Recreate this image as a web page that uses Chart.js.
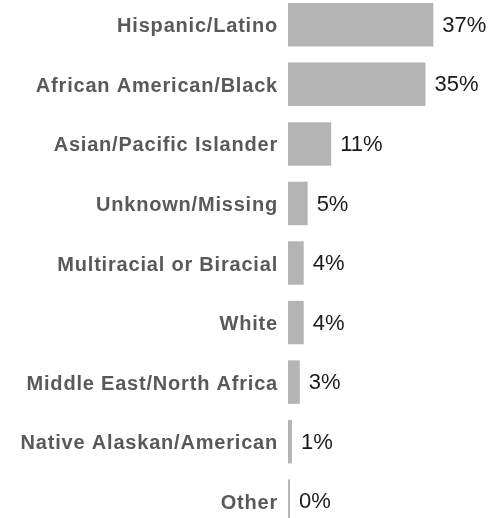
<!DOCTYPE html>
<html>
<head>
<meta charset="utf-8">
<script src="https://cdn.jsdelivr.net/npm/chart.js@4"></script>
<style>
  html, body { margin: 0; padding: 0; background: #fff; overflow: hidden; }
  body { width: 504px; height: 518px; position: relative; }
  #chart { position: absolute; left: 0; top: -5px; }
</style>
</head>
<body>
<canvas id="chart" width="504" height="536"></canvas>
<script>
"use strict";

const categories = [
  "Hispanic/Latino",
  "African American/Black",
  "Asian/Pacific Islander",
  "Unknown/Missing",
  "Multiracial or Biracial",
  "White",
  "Middle East/North Africa",
  "Native Alaskan/American",
  "Other"
];

const percentages = [37, 35, 11, 5, 4, 4, 3, 1, 0];

const FONT = "'Liberation Sans', Arial, Helvetica, sans-serif";

// bold category labels are slightly tracked out
const labelSpacing = {
  id: "labelSpacing",
  beforeDraw(chart) {
    chart.ctx.letterSpacing = "0.8px";
  },
  afterDraw(chart) {
    chart.ctx.letterSpacing = "0px";
  }
};

// percentage text to the right of every bar
const valueLabels = {
  id: "valueLabels",
  afterDatasetsDraw(chart) {
    const ctx = chart.ctx;
    const meta = chart.getDatasetMeta(0);

    ctx.save();
    ctx.letterSpacing = "0px";
    ctx.font = `22px ${FONT}`;
    ctx.fillStyle = "#1a1a1a";
    ctx.textAlign = "left";
    ctx.textBaseline = "middle";

    meta.data.forEach((bar, i) => {
      const end = Math.max(bar.x, bar.base + 2);
      ctx.fillText(`${percentages[i]}%`, end + 9, bar.y + 1);
    });

    ctx.restore();
  }
};

new Chart(document.getElementById("chart"), {
  type: "bar",
  data: {
    labels: categories,
    datasets: [{
      data: percentages,
      backgroundColor: "#b4b4b4",
      borderWidth: 0,
      barPercentage: 0.73,
      categoryPercentage: 1,
      minBarLength: 2
    }]
  },
  options: {
    indexAxis: "y",
    responsive: false,
    animation: false,
    layout: { padding: 0 },
    plugins: {
      legend: { display: false },
      tooltip: { enabled: false }
    },
    scales: {
      x: {
        display: false,
        min: 0,
        max: 55
      },
      y: {
        grid: { display: false, drawTicks: false },
        border: { display: false },
        ticks: {
          color: "#595959",
          padding: 10,
          labelOffset: 2,
          font: { family: FONT, size: 20, weight: "bold" }
        },
        afterFit(scale) {
          // fixed label column, and bars run the full canvas height
          scale.width = 288;
          scale.paddingTop = 0;
          scale.paddingBottom = 0;
        }
      }
    }
  },
  plugins: [labelSpacing, valueLabels]
});
</script>
</body>
</html>
